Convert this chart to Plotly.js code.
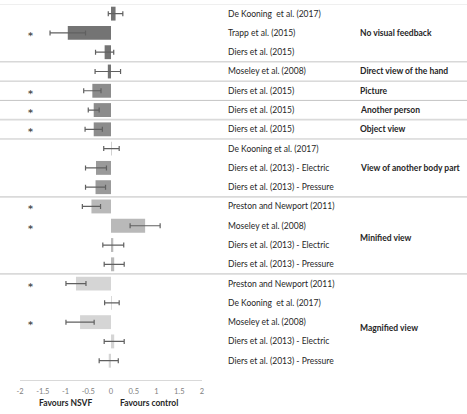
<!DOCTYPE html>
<html>
<head>
<meta charset="utf-8">
<script src="https://cdn.plot.ly/plotly-3.0.1.min.js"></script>
<style>
  html, body { margin: 0; padding: 0; background: #fff; }
  #chart { width: 467px; height: 414px; }
</style>
</head>
<body>
<div id="chart"></div>
<script>
// Study labels, top to bottom
const studies = [
  "De Kooning  et al. (2017)", "Trapp et al. (2015)", "Diers et al. (2015)",
  "Moseley et al. (2008)",
  "Diers et al. (2015)",
  "Diers et al. (2015)",
  "Diers et al. (2015)",
  "De Kooning et al. (2017)", "Diers et al. (2013) - Electric", "Diers et al. (2013) - Pressure",
  "Preston and Newport (2011)", "Moseley et al. (2008)", "Diers et al. (2013) - Electric", "Diers et al. (2013) - Pressure",
  "Preston and Newport (2011)", "De Kooning  et al. (2017)", "Moseley et al. (2008)", "Diers et al. (2013) - Electric", "Diers et al. (2013) - Pressure"
];
// Effect sizes and half-width of the confidence interval
const effects = [0.10, -0.95, -0.14, -0.07, -0.41, -0.38, -0.38, 0.01, -0.33, -0.34, -0.43, 0.75, 0.05, 0.07, -0.77, 0.02, -0.68, 0.07, -0.05];
const ciHalf  = [0.16, 0.39, 0.20, 0.28, 0.19, 0.12, 0.19, 0.17, 0.23, 0.22, 0.20, 0.33, 0.23, 0.22, 0.22, 0.16, 0.31, 0.22, 0.21];
const significant = [false, true, false, false, true, true, true, false, false, false, true, true, false, false, true, false, true, false, false];

// Feedback conditions and how many studies fall in each
const conditions = ["No visual feedback", "Direct view of the hand", "Picture", "Another person", "Object view", "View of another body part", "Minified view", "Magnified view"];
const conditionSizes = [3, 1, 1, 1, 1, 3, 4, 5];
const conditionColors = ["#747474", "#747474", "#8c8c8c", "#8c8c8c", "#8c8c8c", "#9a9a9a", "#b9b9b9", "#d5d5d5"];

const xTicks = [-2, -1.5, -1, -0.5, 0, 0.5, 1, 1.5, 2];
const xTickText = ["-2", "-1.5", "-1", "-0.5", "0", "0.5", "1", "1.5", "2"];

const rows = studies.map((_, i) => i + 1);
const barColors = [];
conditionSizes.forEach((n, g) => { for (let k = 0; k < n; k++) barColors.push(conditionColors[g]); });

const FONT = "Lato, 'Liberation Sans', sans-serif";
const LABEL_X = 1.132;   // paper x of study labels
const COND_X = 1.857;    // paper x of condition labels
const STAR_X = -1.76;    // data x of significance markers

const traces = [{
  type: "bar",
  orientation: "h",
  y: rows,
  x: effects,
  width: 0.72,
  marker: { color: barColors, line: { width: 0 } },
  error_x: { type: "data", array: ciHalf, visible: true, color: "#606060", thickness: 1.2, width: 2.5 },
  hoverinfo: "skip"
}];

const annotations = [];
studies.forEach((s, i) => {
  annotations.push({
    xref: "paper", yref: "y", x: LABEL_X, y: rows[i], text: s,
    xanchor: "left", yanchor: "middle", showarrow: false,
    font: { family: FONT, size: 8.5, color: "#262626" }
  });
  if (significant[i]) {
    annotations.push({
      xref: "x", yref: "y", x: STAR_X, y: rows[i], text: "<b>*</b>",
      xanchor: "center", yanchor: "middle", showarrow: false, yshift: -2.5,
      font: { family: "'DejaVu Sans', sans-serif", size: 9.5, color: "#505050" }
    });
  }
});

// Condition labels centred on their group; separators between groups
const shapes = [];
let start = 0;
conditionSizes.forEach((n, g) => {
  const first = start + 1, last = start + n;
  let yc = (first + last) / 2;
  if (g === 6) yc = 12.62;
  if (g === 7) yc = 17.3;
  annotations.push({
    xref: "paper", yref: "y", x: COND_X, y: yc, text: "<b>" + conditions[g] + "</b>",
    xanchor: "left", yanchor: "middle", showarrow: false,
    font: { family: FONT, size: 8.5, color: "#262626" }
  });
  const yLine = start + 0.5;
  const heavy = (g === 4 || g === 6 || g === 7);
  shapes.push({
    type: "line", xref: "paper", yref: "y",
    x0: -0.12, x1: 2.46, y0: yLine, y1: yLine,
    line: { color: heavy ? "#dadada" : (g === 0 ? "#e0e0e0" : "#c4c4c4"), width: heavy ? 1.8 : 1 }
  });
  start += n;
});

// Direction labels below the axis
annotations.push({
  xref: "x", yref: "paper", x: -1.0, y: -0.062, text: "<b>Favours NSVF</b>",
  showarrow: false, xanchor: "center", yanchor: "middle",
  font: { family: FONT, size: 8.5, color: "#262626" }
});
annotations.push({
  xref: "x", yref: "paper", x: 0.83, y: -0.062, text: "<b>Favours control</b>",
  showarrow: false, xanchor: "center", yanchor: "middle",
  font: { family: FONT, size: 8.5, color: "#262626" }
});

const layout = {
  width: 467, height: 414,
  margin: { l: 20, r: 265, t: 4, b: 34 },
  paper_bgcolor: "#ffffff", plot_bgcolor: "#ffffff",
  showlegend: false,
  xaxis: {
    range: [-2, 2], tickvals: xTicks, ticktext: xTickText,
    showgrid: false, zeroline: false,
    showline: true, linecolor: "#d9d9d9", linewidth: 1,
    ticks: "", ticklen: 0, ticklabelstandoff: 4,
    tickfont: { family: FONT, size: 7.5, color: "#808080" },
    fixedrange: true
  },
  yaxis: {
    range: [20, 0.5], showticklabels: false, showgrid: false, zeroline: false,
    showline: false, ticks: "", fixedrange: true
  },
  bargap: 0.28,
  annotations: annotations,
  shapes: shapes
};

Plotly.newPlot("chart", traces, layout, { displayModeBar: false, staticPlot: true });
</script>
</body>
</html>
